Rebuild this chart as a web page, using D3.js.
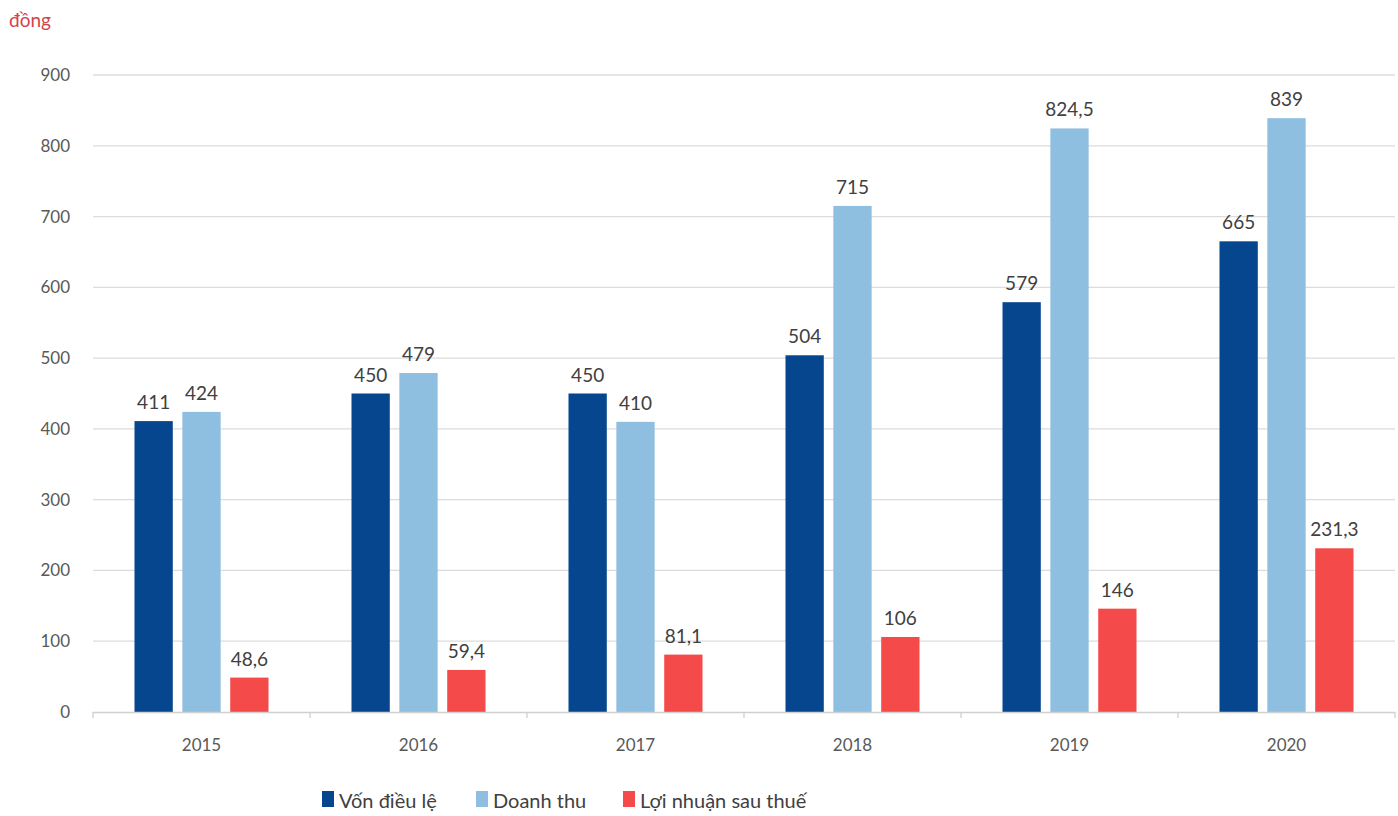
<!DOCTYPE html>
<html>
<head>
<meta charset="utf-8">
<script src="https://cdn.jsdelivr.net/npm/d3@7"></script>
<style>
  body { margin: 0; background: #fff; }
  svg text { font-family: Lato, "Open Sans", sans-serif; }
</style>
</head>
<body>
<div id="chart"></div>
<script>
// chart data
var years = ["2015", "2016", "2017", "2018", "2019", "2020"];
var seriesNames = ["Vốn điều lệ", "Doanh thu", "Lợi nhuận sau thuế"];
var vonDieuLe = [411, 450, 450, 504, 579, 665];
var doanhThu = [424, 479, 410, 715, 824.5, 839];
var loiNhuan = [48.6, 59.4, 81.1, 106, 146, 231.3];
var yTicks = [0, 100, 200, 300, 400, 500, 600, 700, 800, 900];
var colors = ["#05468f", "#8fbfe0", "#f44a4a"];

var width = 1398, height = 816;
var plotLeft = 93, plotRight = 1395, plotTop = 75, plotBottom = 712;

var svg = d3.select("#chart").append("svg")
    .attr("width", width)
    .attr("height", height);

var x = d3.scaleBand().domain(years).range([plotLeft, plotRight]).padding(0);
var y = d3.scaleLinear().domain([0, 900]).range([plotBottom, plotTop]);

// gridlines
svg.append("g").selectAll("line")
    .data(yTicks.filter(function(d) { return d > 0; }))
    .enter().append("line")
    .attr("x1", plotLeft).attr("x2", plotRight)
    .attr("y1", function(d) { return y(d); })
    .attr("y2", function(d) { return y(d); })
    .attr("stroke", "#dcdcdc")
    .attr("stroke-width", 1.3);

// y labels
svg.append("g").selectAll("text")
    .data(yTicks)
    .enter().append("text")
    .attr("x", 70)
    .attr("y", function(d) { return y(d); })
    .attr("dy", "0.35em")
    .attr("text-anchor", "end")
    .attr("font-size", 17)
    .attr("fill", "#595959")
    .text(function(d) { return d; });

// unit label
svg.append("text")
    .attr("x", 9).attr("y", 27)
    .attr("font-size", 19)
    .attr("fill", "#d0454a")
    .text("đồng");

// bars
var sub = d3.scaleBand().domain([0, 1, 2]).range([0, 134]).paddingInner(0.2);
var data = [vonDieuLe, doanhThu, loiNhuan];
var fmt = function(v) { return String(v).replace(".", ","); };

data.forEach(function(vals, s) {
    var g = svg.append("g");
    g.selectAll("rect")
        .data(vals)
        .enter().append("rect")
        .attr("x", function(d, i) { return x(years[i]) + (x.bandwidth() - 134) / 2 + sub(s); })
        .attr("y", function(d) { return y(d); })
        .attr("width", sub.bandwidth())
        .attr("height", function(d) { return plotBottom - y(d); })
        .attr("fill", colors[s]);
    g.selectAll("text")
        .data(vals)
        .enter().append("text")
        .attr("x", function(d, i) { return x(years[i]) + (x.bandwidth() - 134) / 2 + sub(s) + sub.bandwidth() / 2; })
        .attr("y", function(d) { return y(d) - 12; })
        .attr("text-anchor", "middle")
        .attr("font-size", 19)
        .attr("fill", "#404040")
        .text(fmt);
});

// x axis
var xAxis = svg.append("g");
xAxis.append("line")
    .attr("x1", plotLeft).attr("x2", plotRight)
    .attr("y1", plotBottom + 0.5).attr("y2", plotBottom + 0.5)
    .attr("stroke", "#d0d0d0").attr("stroke-width", 1.3);
xAxis.selectAll("line.tick")
    .data(years.concat(["end"]))
    .enter().append("line")
    .attr("class", "tick")
    .attr("x1", function(d, i) { return plotLeft + i * x.step(); })
    .attr("x2", function(d, i) { return plotLeft + i * x.step(); })
    .attr("y1", plotBottom).attr("y2", plotBottom + 6)
    .attr("stroke", "#d0d0d0").attr("stroke-width", 1.3);
xAxis.selectAll("text")
    .data(years)
    .enter().append("text")
    .attr("x", function(d) { return x(d) + x.bandwidth() / 2; })
    .attr("y", 751)
    .attr("text-anchor", "middle")
    .attr("font-size", 17)
    .attr("fill", "#595959")
    .text(function(d) { return d; });

// legend
var legendX = [322, 476, 623];
var legend = svg.append("g");
seriesNames.forEach(function(name, i) {
    legend.append("rect")
        .attr("x", legendX[i]).attr("y", 791)
        .attr("width", 12).attr("height", 16)
        .attr("fill", colors[i]);
    legend.append("text")
        .attr("x", legendX[i] + 17).attr("y", 808)
        .attr("font-size", 20)
        .attr("fill", "#404040")
        .text(name);
});
</script>
</body>
</html>
